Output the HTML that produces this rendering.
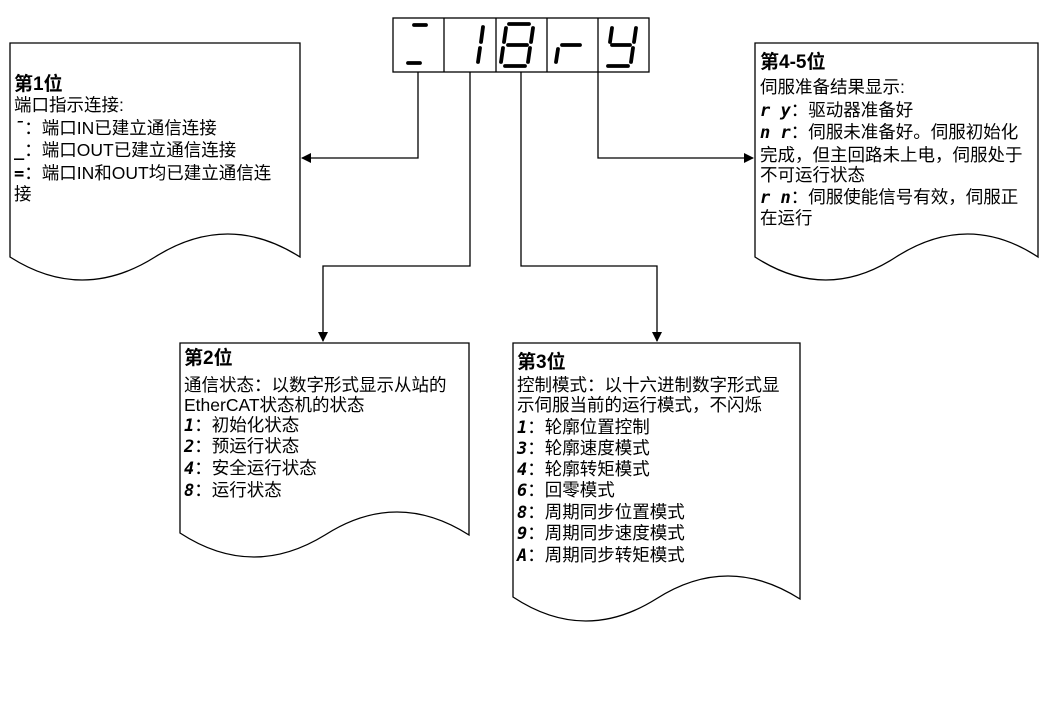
<!DOCTYPE html>
<html><head><meta charset="utf-8"><style>
html,body{margin:0;padding:0;background:#fff;}
svg{display:block;}
text{font-family:"Liberation Sans","Noto Sans CJK SC",sans-serif;font-size:17.5px;fill:#000;}
.t{font-size:19px;font-weight:bold;}
.s{font-family:"DejaVu Sans Mono",monospace;font-style:oblique;font-weight:bold;font-size:17px;}
.seg{stroke:#000;stroke-width:3.8;stroke-linecap:round;fill:none;}
</style></head><body>
<svg width="1048" height="720" viewBox="0 0 1048 720" xmlns="http://www.w3.org/2000/svg">
<defs><marker id="a" markerWidth="10" markerHeight="10" refX="9" refY="5" orient="auto" markerUnits="userSpaceOnUse"><path d="M0,0 L10,5 L0,10 z" fill="#000"/></marker></defs>
<g fill="none" stroke="#000" stroke-width="1.3">
<rect x="393" y="18" width="256" height="54" fill="#fff"/>
<line x1="444" y1="18" x2="444" y2="72"/><line x1="496" y1="18" x2="496" y2="72"/>
<line x1="547" y1="18" x2="547" y2="72"/><line x1="598" y1="18" x2="598" y2="72"/>
<polyline points="418,72 418,158 302,158" marker-end="url(#a)"/>
<polyline points="470,72 470,266 323,266 323,341" marker-end="url(#a)"/>
<polyline points="521,72 521,266 657,266 657,341" marker-end="url(#a)"/>
<polyline points="598,72 598,158 753,158" marker-end="url(#a)"/>
<path d="M10,257 L10,43 L300,43 L300,257 Q228,211 155,257 Q82,303 10,257 Z" fill="#fff"/>
<path d="M755,257 L755,43 L1038,43 L1038,257 Q968,211 896,257 Q826,303 755,257 Z" fill="#fff"/>
<path d="M180,533 L180,343 L469,343 L469,535 Q397,489 325,535 Q252,580 180,533 Z" fill="#fff"/>
<path d="M513,597 L513,343 L800,343 L800,599 Q728,553 656,599 Q584,644 513,597 Z" fill="#fff"/>
</g>
<g class="seg">
<line x1="414" y1="25" x2="426" y2="25"/>
<line x1="408" y1="63" x2="420" y2="63"/>
<line x1="483" y1="27" x2="481" y2="42"/><line x1="480" y1="48" x2="478" y2="62"/>
<line x1="509" y1="24" x2="529" y2="24"/>
<line x1="533" y1="28" x2="531" y2="42"/><line x1="530" y1="48" x2="528" y2="62"/>
<line x1="505" y1="66" x2="525" y2="66"/>
<line x1="506" y1="28" x2="504" y2="42"/><line x1="503" y1="48" x2="501" y2="62"/>
<line x1="508" y1="45" x2="527" y2="45"/>
<line x1="558" y1="49" x2="556" y2="62"/><line x1="562" y1="45" x2="580" y2="45"/>
<line x1="612" y1="28" x2="610" y2="42"/>
<line x1="636" y1="28" x2="634" y2="42"/><line x1="633" y1="48" x2="631" y2="62"/>
<line x1="612" y1="45" x2="630" y2="45"/>
<line x1="608" y1="66" x2="628" y2="66"/>
</g>
<text x="14" y="90" class="t">第1位</text>
<text x="14" y="111">端口指示连接:</text>
<text x="14" y="134"><tspan class="s">¯</tspan>：端口IN已建立通信连接</text>
<text x="14" y="156"><tspan class="s">_</tspan>：端口OUT已建立通信连接</text>
<text x="14" y="179"><tspan class="s">=</tspan>：端口IN和OUT均已建立通信连</text>
<text x="14" y="200">接</text>
<text x="760" y="68" class="t">第4-5位</text>
<text x="760" y="93">伺服准备结果显示:</text>
<text x="760" y="116"><tspan class="s">r y</tspan>：驱动器准备好</text>
<text x="760" y="138"><tspan class="s">n r</tspan>：伺服未准备好。伺服初始化</text>
<text x="760" y="161">完成，但主回路未上电，伺服处于</text>
<text x="760" y="181">不可运行状态</text>
<text x="760" y="203"><tspan class="s">r n</tspan>：伺服使能信号有效，伺服正</text>
<text x="760" y="224">在运行</text>
<text x="184" y="364" class="t">第2位</text>
<text x="184" y="391">通信状态：以数字形式显示从站的</text>
<text x="184" y="411">EtherCAT状态机的状态</text>
<text x="184" y="431"><tspan class="s"> 1</tspan>：初始化状态</text>
<text x="184" y="452"><tspan class="s">2</tspan>：预运行状态</text>
<text x="184" y="474"><tspan class="s">4</tspan>：安全运行状态</text>
<text x="184" y="496"><tspan class="s">8</tspan>：运行状态</text>
<text x="517" y="368" class="t">第3位</text>
<text x="517" y="391">控制模式：以十六进制数字形式显</text>
<text x="517" y="411">示伺服当前的运行模式，不闪烁</text>
<text x="517" y="433"><tspan class="s"> 1</tspan>：轮廓位置控制</text>
<text x="517" y="454"><tspan class="s">3</tspan>：轮廓速度模式</text>
<text x="517" y="475"><tspan class="s">4</tspan>：轮廓转矩模式</text>
<text x="517" y="496"><tspan class="s">6</tspan>：回零模式</text>
<text x="517" y="518"><tspan class="s">8</tspan>：周期同步位置模式</text>
<text x="517" y="539"><tspan class="s">9</tspan>：周期同步速度模式</text>
<text x="517" y="561"><tspan class="s">A</tspan>：周期同步转矩模式</text>
</svg>
</body></html>
